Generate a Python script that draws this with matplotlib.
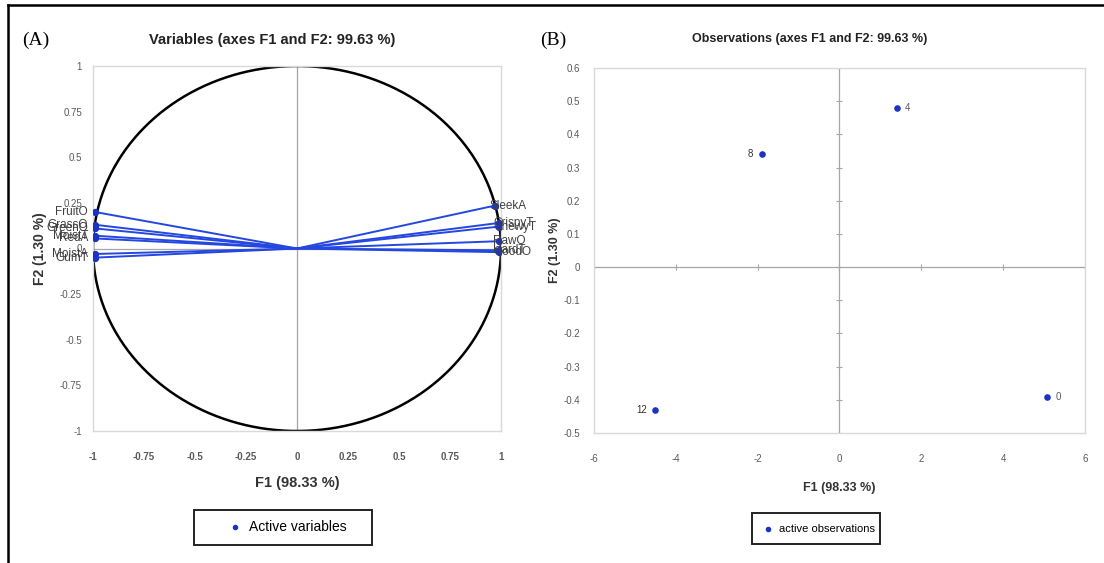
#!/usr/bin/env python3
# -*- coding: utf-8 -*-
# PCA: circulo de correlaciones (A) y mapa de observaciones (B)
import numpy as np
import matplotlib
matplotlib.use('Agg')
import matplotlib.pyplot as plt
from matplotlib import font_manager
from matplotlib.lines import Line2D
from matplotlib.patches import Rectangle

# variables activas (coordenadas F1, F2)
var_names = ['FruitO', 'GrassO', 'GreenO', 'MoistT', 'RedA', 'MoistA', 'GumT',
             'SleekA', 'CrispyT', 'ChewyT', 'RawO', 'HardT', 'GoodO']
var_f1 = [-0.99, -0.99, -0.99, -0.99, -0.99, -0.99, -0.99,
          0.97, 0.99, 0.99, 0.99, 0.99, 0.99]
var_f2 = [0.20, 0.13, 0.11, 0.07, 0.055, -0.03, -0.05,
          0.235, 0.14, 0.12, 0.04, -0.01, -0.02]

# observaciones activas
obs_names = ['0', '4', '8', '12']
obs_f1 = [5.07, 1.40, -1.90, -4.50]
obs_f2 = [-0.39, 0.48, 0.34, -0.43]

# ticks
ticks_var = [-1, -0.75, -0.5, -0.25, 0, 0.25, 0.5, 0.75, 1]
ticks_obs_x = [-6, -4, -2, 0, 2, 4, 6]
ticks_obs_y = [-0.5, -0.4, -0.3, -0.2, -0.1, 0, 0.1, 0.2, 0.3, 0.4, 0.5, 0.6]

titulo_a = 'Variables (axes F1 and F2: 99.63 %)'
titulo_b = 'Observations (axes F1 and F2: 99.63 %)'
eje_x = 'F1 (98.33 %)'
eje_y = 'F2 (1.30 %)'

disponibles = set(f.name for f in font_manager.fontManager.ttflist)
fuente_narrow = 'Liberation Sans Narrow' if 'Liberation Sans Narrow' in disponibles else 'Liberation Sans'

azul = '#2447e0'
azul_punto = '#1a33c4'
gris_marco = '#d9d9d9'
gris_eje = '#a6a6a6'
gris_texto = '#595959'


def fmt(v):
    return '{:g}'.format(v)


def main():
    fig = plt.figure(figsize=(11.04, 5.63), dpi=100)
    fig.patch.set_facecolor('white')

    # borde de la figura (arriba e izquierda)
    fig.add_artist(Line2D([8 / 1104, 1.0], [1 - 5 / 563, 1 - 5 / 563],
                          transform=fig.transFigure, color='black', lw=1.8))
    fig.add_artist(Line2D([8 / 1104, 8 / 1104], [0, 1 - 5 / 563],
                          transform=fig.transFigure, color='black', lw=1.8))

    # ---------------- (A) variables ----------------
    ax1 = fig.add_axes([93 / 1104, 132 / 563, 408 / 1104, 365 / 563])
    ax1.set_xlim(-1, 1)
    ax1.set_ylim(-1, 1)
    for s in ax1.spines.values():
        s.set_color(gris_marco)
        s.set_linewidth(1.0)
    ax1.axhline(0, color=gris_eje, lw=0.9, zorder=1)
    ax1.axvline(0, color=gris_eje, lw=0.9, zorder=1)
    t = np.linspace(0, 2 * np.pi, 500)
    ax1.plot(np.cos(t), np.sin(t), color='black', lw=1.8, zorder=2)
    for x, y in zip(var_f1, var_f2):
        ax1.plot([0, x], [0, y], color=azul, lw=1.4, zorder=3)
    ax1.scatter(var_f1, var_f2, s=18, color=azul_punto, zorder=4, label='Active variables')
    for n, x, y in zip(var_names, var_f1, var_f2):
        if x < 0:
            ax1.annotate(n, (x, y), xytext=(-5, 0), textcoords='offset points',
                         ha='right', va='center', fontsize=8.5, color='#404040', zorder=5,
                         family='Liberation Sans')
        else:
            ax1.annotate(n, (x, y), xytext=(-4, 0), textcoords='offset points',
                         ha='left', va='center', fontsize=8.5, color='#404040', zorder=5,
                         family='Liberation Sans')
    ax1.set_xticks(ticks_var)
    ax1.set_yticks(ticks_var)
    ax1.set_xticklabels([fmt(v) for v in ticks_var], fontsize=7, color=gris_texto,
                        fontweight='bold', family='Liberation Sans')
    ax1.set_yticklabels([fmt(v) for v in ticks_var], fontsize=7, color=gris_texto,
                        family='Liberation Sans')
    ax1.tick_params(length=0, pad=8)
    ax1.tick_params(axis='x', pad=15)
    ax1.set_xlabel(eje_x, fontsize=10.5, fontweight='bold', family='Liberation Sans',
                   color='#333333', labelpad=10)
    ax1.set_ylabel(eje_y, fontsize=10, fontweight='bold', family='Liberation Sans',
                   color='#333333', labelpad=9)
    ax1.set_title(titulo_a, fontsize=10.5, fontweight='bold', family='Liberation Sans',
                  color='#222222', pad=16, x=0.44)
    fig.text(22 / 1104, 1 - 40 / 563, '(A)', fontsize=14, family='Liberation Serif',
             va='center', ha='left')

    fig.legend(handles=ax1.collections[:1], loc='center',
               bbox_to_anchor=(284 / 1104, 1 - 527 / 563), frameon=False,
               handletextpad=0.0, markerscale=0.7,
               prop={'family': 'Liberation Sans', 'size': 10})
    fig.add_artist(Rectangle((194 / 1104, 1 - 545 / 563), 178 / 1104, 35 / 563,
                             transform=fig.transFigure, fill=False,
                             edgecolor='#222222', lw=1.4))

    # ---------------- (B) observaciones ----------------
    ax2 = fig.add_axes([594 / 1104, 130 / 563, 491 / 1104, 365 / 563])
    ax2.set_xlim(-6, 6)
    ax2.set_ylim(-0.5, 0.6)
    for s in ax2.spines.values():
        s.set_color(gris_marco)
        s.set_linewidth(1.0)
    ax2.axhline(0, color=gris_eje, lw=0.9, zorder=1)
    ax2.axvline(0, color=gris_eje, lw=0.9, zorder=1)
    # marcas pequenas sobre los ejes centrales
    ax2.plot([0] * len(ticks_obs_y), ticks_obs_y, ls='none', marker='_', ms=4,
             color=gris_eje, mew=0.8, zorder=1)
    ax2.plot(ticks_obs_x, [0] * len(ticks_obs_x), ls='none', marker='|', ms=4,
             color=gris_eje, mew=0.8, zorder=1)
    ax2.scatter(obs_f1, obs_f2, s=14, color=azul_punto, zorder=4, label='active observations')
    for n, x, y in zip(obs_names, obs_f1, obs_f2):
        if x > 0:
            ax2.annotate(n, (x, y), xytext=(6, 0), textcoords='offset points',
                         ha='left', va='center', fontsize=7, color=gris_texto,
                         family=fuente_narrow)
        else:
            ax2.annotate(n, (x, y), xytext=(-6, 0), textcoords='offset points',
                         ha='right', va='center', fontsize=7, color='#333333',
                         family=fuente_narrow)
    ax2.set_xticks(ticks_obs_x)
    ax2.set_yticks(ticks_obs_y)
    ax2.set_xticklabels([fmt(v) for v in ticks_obs_x], fontsize=7, color=gris_texto,
                        family=fuente_narrow)
    ax2.set_yticklabels([fmt(v) for v in ticks_obs_y], fontsize=7, color=gris_texto,
                        family=fuente_narrow)
    ax2.tick_params(length=0, pad=10)
    ax2.tick_params(axis='x', pad=15)
    ax2.set_xlabel(eje_x, fontsize=9, fontweight='bold', family=fuente_narrow,
                   color='#333333', labelpad=13)
    ax2.set_ylabel(eje_y, fontsize=9, fontweight='bold', family='Liberation Sans',
                   color='#333333', labelpad=2)
    ax2.set_title(titulo_b, fontsize=9, fontweight='bold', family=fuente_narrow,
                  color='#222222', pad=19, x=0.44)
    fig.text(540 / 1104, 1 - 40 / 563, '(B)', fontsize=14, family='Liberation Serif',
             va='center', ha='left')

    fig.legend(handles=ax2.collections[:1], loc='center',
               bbox_to_anchor=(816 / 1104, 1 - 528.5 / 563), frameon=False,
               handletextpad=0.0, markerscale=0.8,
               prop={'family': fuente_narrow, 'size': 8})
    fig.add_artist(Rectangle((752 / 1104, 1 - 544 / 563), 128 / 1104, 31 / 563,
                             transform=fig.transFigure, fill=False,
                             edgecolor='#222222', lw=1.4))

    fig.savefig('out.png', dpi=100)


if __name__ == '__main__':
    main()
